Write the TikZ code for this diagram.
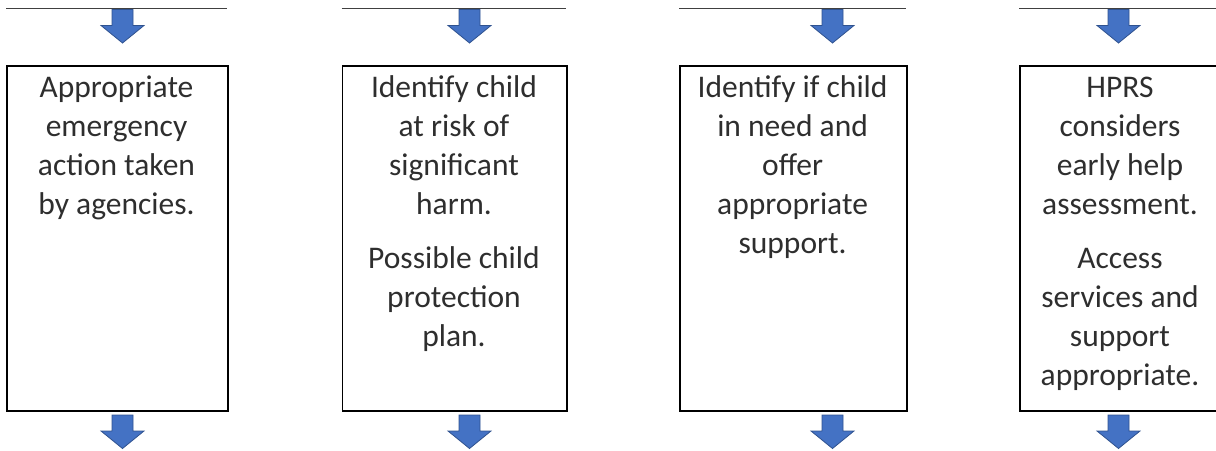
\documentclass[tikz,border=0pt]{standalone}
\usepackage{fontspec}
\setmainfont{Carlito}
\definecolor{arrowblue}{HTML}{4472C4}
\definecolor{arrowedge}{HTML}{2F528F}
\definecolor{txtcol}{HTML}{2E2E2E}
\begin{document}
\begin{tikzpicture}[x=1pt,y=-1pt,
  box/.style={draw=black,line width=1.6pt,fill=none,inner sep=0pt,anchor=north west},
  rule/.style={draw=black!75,line width=1pt},
  blockarrow/.style={fill=arrowblue,draw=arrowedge,line width=0.8pt,line join=miter},
  txt/.style={anchor=north,align=center,inner sep=0pt,font=\fontsize{31.5}{39}\selectfont,text=txtcol},
  downarrow/.pic={\draw[blockarrow] (-10.5,0) -- (10.5,0) -- (10.5,16) -- (21.5,16) -- (0,33.5) -- (-21.5,16) -- (-10.5,16) -- cycle;}]
\useasboundingbox (0,0) rectangle (1216,450);
\clip (0,0) rectangle (1216,450);
% top rules
\coordinate (r1a) at (6,8);    \coordinate (r1b) at (227,8);
\coordinate (r2a) at (341.7,8);\coordinate (r2b) at (566,8);
\coordinate (r3a) at (679.3,8);\coordinate (r3b) at (906,8);
\coordinate (r4a) at (1019,8); \coordinate (r4b) at (1222,8);
\draw[rule] (r1a) -- (r1b);
\draw[rule] (r2a) -- (r2b);
\draw[rule] (r3a) -- (r3b);
\draw[rule] (r4a) -- (r4b);
% boxes
\node[box,minimum width=221pt,minimum height=345pt] (b1) at (6,65) {};
\node[box,minimum width=224.3pt,minimum height=345pt] (b2) at (341.7,65) {};
\node[box,minimum width=226.7pt,minimum height=345pt] (b3) at (679.3,65) {};
\node[box,minimum width=203pt,minimum height=345pt] (b4) at (1019,65) {};
% texts
\node[txt] (t1) at (116.5,69.7) {\strut Appropriate\\emergency\\action taken\\by agencies.};
\node[txt] (t2) at (454,69.7) {\strut Identify child\\at risk of\\significant\\harm.\\[15pt]Possible child\\protection\\plan.};
\node[txt] (t3) at (792.6,69.7) {\strut Identify if child\\in need and\\offer\\appropriate\\support.};
\node[txt] (t4) at (1120,69.7) {\strut HPRS\\considers\\early help\\assessment.\\[15pt]Access\\services and\\support\\appropriate.};
% arrows
\pic (ua1) at (122.5,9.5) {downarrow};
\pic (ua2) at (469.5,9.5) {downarrow};
\pic (ua3) at (832.5,9.5) {downarrow};
\pic (ua4) at (1118.5,9.5) {downarrow};
\pic (da1) at (122.5,415) {downarrow};
\pic (da2) at (469.5,415) {downarrow};
\pic (da3) at (832.5,415) {downarrow};
\pic (da4) at (1118.5,415) {downarrow};
\end{tikzpicture}
\end{document}
